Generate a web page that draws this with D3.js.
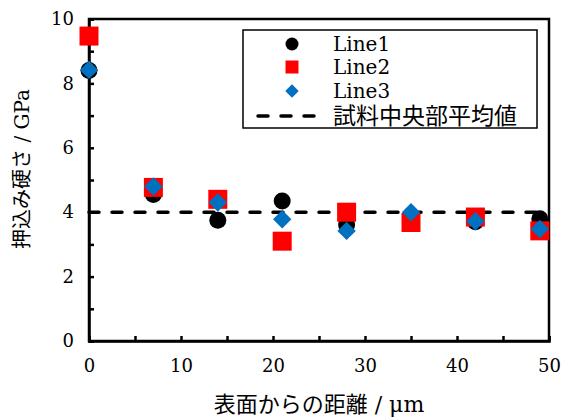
<!DOCTYPE html>
<html>
<head>
<meta charset="utf-8">
<script src="https://cdn.jsdelivr.net/npm/d3@7"></script>
<style>
  html, body { margin: 0; padding: 0; background: #fff; }
  svg { display: block; }
</style>
</head>
<body>
<svg id="chart" width="564" height="420"></svg>
<script>
// --- data ---
const distances = [0, 7, 14, 21, 28, 35, 42, 49];
const line1 = [8.4, 4.55, 3.75, 4.35, 3.6, 3.7, 3.7, 3.8];
const line2 = [9.47, 4.77, 4.4, 3.1, 4.0, 3.68, 3.85, 3.42];
const line3 = [8.42, 4.8, 4.3, 3.78, 3.42, 4.0, 3.72, 3.48];
const centerAverage = 4.0;
const legendLabels = ["Line1", "Line2", "Line3", "試料中央部平均値"];
const xTicks = [0, 10, 20, 30, 40, 50];
const yTicks = [0, 2, 4, 6, 8, 10];

// Liberation Serif は見つからないので DejaVu Serif を使う
const FONT = "DejaVu Serif, serif";
const FONT_JP = "DejaVu Serif, Noto Sans CJK JP";

const svg = d3.select("#chart");
const margin = { left: 89, right: 15, top: 19, bottom: 79 };
const W = 564, H = 420;

const x = d3.scaleLinear().domain([0, 50]).range([margin.left, W - margin.right]);
const y = d3.scaleLinear().domain([0, 10]).range([H - margin.bottom, margin.top]);

// frame
svg.append("rect")
  .attr("x", x(0)).attr("y", y(10))
  .attr("width", x(50) - x(0)).attr("height", y(0) - y(10))
  .attr("fill", "none").attr("stroke", "#000").attr("stroke-width", 2.5);

// axes with inward ticks
const xAxis = svg.append("g").attr("transform", `translate(0,${y(0)})`)
  .call(d3.axisBottom(x).tickValues(d3.range(0, 51, 5)).tickSize(-5).tickPadding(14)
    .tickFormat(d => xTicks.includes(d) ? d : ""));
const yAxis = svg.append("g").attr("transform", `translate(${x(0)},0)`)
  .call(d3.axisLeft(y).tickValues(d3.range(0, 11, 1)).tickSize(-5).tickPadding(15)
    .tickFormat(d => yTicks.includes(d) ? d : ""));

[xAxis, yAxis].forEach(g => {
  g.attr("font-family", FONT).attr("font-size", 18);
  g.select(".domain").attr("stroke", "#000").attr("stroke-width", 2.5);
  g.selectAll(".tick line").attr("stroke", "#000").attr("stroke-width", 2.5);
  g.selectAll(".tick text").attr("fill", "#000");
});
xAxis.selectAll(".tick text").attr("dy", "0.95em");

// axis titles
svg.append("text")
  .attr("x", (x(0) + x(50)) / 2).attr("y", 412)
  .attr("text-anchor", "middle")
  .attr("font-family", FONT_JP).attr("font-size", 22)
  .text("表面からの距離 / μm");
svg.append("text")
  .attr("transform", "translate(29,169) rotate(-90)")
  .attr("text-anchor", "middle")
  .attr("font-family", FONT_JP).attr("font-size", 20)
  .text("押込み硬さ / GPa");

// average line
svg.append("line")
  .attr("x1", x(0)).attr("x2", x(50))
  .attr("y1", y(centerAverage)).attr("y2", y(centerAverage))
  .attr("stroke", "#000").attr("stroke-width", 3.5)
  .attr("stroke-dasharray", "10,13").attr("stroke-linecap", "round");

// markers
const circle = d3.symbol().type(d3.symbolCircle).size(Math.PI * 8.5 * 8.5);
const square = d3.symbol().type(d3.symbolSquare).size(19 * 19);
const diamond = d3.symbol().type(d3.symbolSquare).size(13 * 13);

const series = [
  { values: line1, sym: circle, color: "#000000", rot: 0 },
  { values: line2, sym: square, color: "#ff0000", rot: 0 },
  { values: line3, sym: diamond, color: "#0070c0", rot: 45 }
];

series.forEach(s => {
  svg.append("g").selectAll("path")
    .data(distances.map((d, i) => [d, s.values[i]]))
    .join("path")
    .attr("d", s.sym)
    .attr("fill", s.color)
    .attr("transform", d => `translate(${x(d[0])},${y(d[1])}) rotate(${s.rot})`);
});

// legend
const lg = svg.append("g");
lg.append("rect")
  .attr("x", 243).attr("y", 30).attr("width", 294).attr("height", 98)
  .attr("fill", "#fff").attr("stroke", "#000").attr("stroke-width", 1.5);

const legendSyms = [
  d3.symbol().type(d3.symbolCircle).size(Math.PI * 6.5 * 6.5),
  d3.symbol().type(d3.symbolSquare).size(13 * 13),
  d3.symbol().type(d3.symbolSquare).size(9.5 * 9.5)
];
const rowY = [44, 67, 91, 116];
legendSyms.forEach((sym, i) => {
  lg.append("path")
    .attr("d", sym)
    .attr("fill", series[i].color)
    .attr("transform", `translate(292,${rowY[i]}) rotate(${series[i].rot})`);
});
lg.append("line")
  .attr("x1", 258).attr("x2", 316).attr("y1", rowY[3]).attr("y2", rowY[3])
  .attr("stroke", "#000").attr("stroke-width", 3.5)
  .attr("stroke-dasharray", "10,13").attr("stroke-linecap", "round");

lg.selectAll("text.lbl")
  .data(legendLabels)
  .join("text")
  .attr("class", "lbl")
  .attr("x", 333).attr("y", (d, i) => rowY[i])
  .attr("dy", "0.35em")
  .attr("font-family", FONT_JP)
  .attr("font-size", d => /^[\x00-\x7f]+$/.test(d) ? 20 : 23)
  .text(d => d);
</script>
</body>
</html>
